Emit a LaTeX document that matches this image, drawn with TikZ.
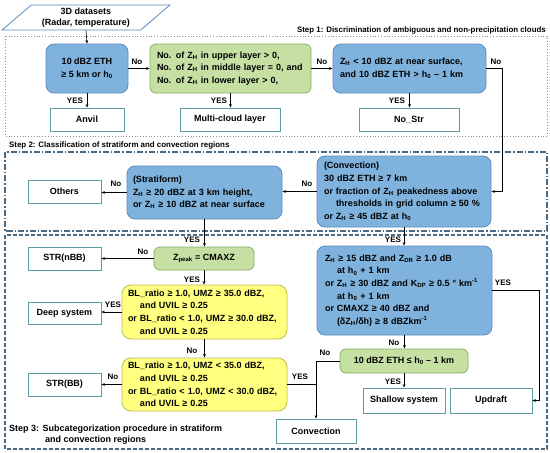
\documentclass[tikz,border=0pt]{standalone}
\usepackage{fontspec}
\setmainfont{Liberation Sans}
\usetikzlibrary{shapes.geometric,arrows.meta}
\definecolor{bfill}{HTML}{7FB3DD}
\definecolor{bdraw}{HTML}{5A8CBF}
\definecolor{gfill}{HTML}{C6E0A4}
\definecolor{gdraw}{HTML}{86AE62}
\definecolor{yfill}{HTML}{FFFF80}
\definecolor{ydraw}{HTML}{BDBD50}
\definecolor{leafc}{HTML}{5F9EA0}
\definecolor{framec}{HTML}{4C6B82}
\definecolor{framed}{HTML}{7A95A8}
\newcommand{\ZH}{Z\textsubscript{H}}
\newcommand{\hz}{h\textsubscript{0}}
\newcommand{\ind}{\hspace*{12pt}}
\begin{document}
\begin{tikzpicture}[x=1pt,y=-1pt,
  font=\fontsize{7.9}{12.6}\selectfont\bfseries,
  bigfont/.style={font=\fontsize{9}{12.6}\selectfont\bfseries},
  box/.style={bigfont, line width=0.8pt, inner sep=0pt, align=left},
  bluebox/.style={box, fill=bfill, draw=bdraw, rounded corners=8pt},
  greenbox/.style={box, fill=gfill, draw=gdraw, rounded corners=6pt},
  yellowbox/.style={box, fill=yfill, draw=ydraw, rounded corners=9pt},
  leaf/.style={bigfont, draw=leafc, line width=0.9pt, fill=white, align=center, inner sep=0pt},
  conn/.style={-{Stealth[length=3.5pt,width=2.8pt]}, line width=0.6pt},
  plain/.style={line width=0.6pt},
  lbl/.style={inner sep=0pt, font=\fontsize{8}{10}\selectfont\bfseries}
]
\useasboundingbox (0,0) rectangle (550,453);
% frames
\draw[framed, line width=0.8pt, dotted] (5,36) rectangle (547,136);
\draw[framec, line width=1.2pt, dash pattern=on 6pt off 2pt on 1.5pt off 2pt] (5,152) rectangle (547,231);
\draw[framec, line width=1.2pt, dash pattern=on 4pt off 2pt] (5,235) rectangle (547,449);
\node[inner sep=0pt, anchor=east] (s1) at (546,30) {Step 1: Discrimination of ambiguous and non-precipitation clouds};
\node[inner sep=0pt, anchor=west] (s2) at (9,145) {Step 2: Classification of stratiform and convection regions};
\node[inner sep=0pt, anchor=north west, align=left, font=\fontsize{9}{11}\selectfont\bfseries] (s3) at (9,425) {Step 3: Subcategorization procedure in stratiform\\\hspace*{36pt}and convection regions};
% data
\node[bigfont, draw=bdraw, line width=0.8pt, fill=white, shape=trapezium, trapezium left angle=39, trapezium right angle=141,
  trapezium stretches=true, minimum width=168pt, minimum height=25pt, inner sep=0pt, align=center] (data) at (86,17.5)
  {3D datasets\\[-2pt](Radar, temperature)};
% step 1
\node[bluebox, align=center, minimum width=82pt, minimum height=49pt] (b1) at (87,68.5) {10 dBZ ETH\\≥ 5 km or \hz};
\node[greenbox, text width=147pt, minimum width=161pt, minimum height=49pt] (b2) at (230.5,68.5)
  {No. of \ZH{} in upper layer > 0,\\No. of \ZH{} in middle layer = 0, and\\No. of \ZH{} in lower layer > 0,};
\node[bluebox, text width=139pt, minimum width=153pt, minimum height=49pt] (b3) at (409.5,68.5)
  {\ZH{} < 10 dBZ at near surface,\\and 10 dBZ ETH > \hz{} – 1 km};
\node[leaf, minimum width=74pt, minimum height=23pt] (anvil) at (87,119.5) {Anvil};
\node[leaf, minimum width=100pt, minimum height=23pt] (multi) at (230,119.5) {Multi-cloud layer};
\node[leaf, minimum width=100pt, minimum height=23pt] (nostr) at (409,119.5) {No\_Str};
% step 2
\node[bluebox, text width=143pt, minimum width=155pt, minimum height=53pt] (strat) at (204.5,192.5)
  {(Stratiform)\\\ZH{} ≥ 20 dBZ at 3 km height,\\or \ZH{} ≥ 10 dBZ at near surface};
\node[leaf, minimum width=73pt, minimum height=23pt] (others) at (64.5,191.5) {Others};
\node[bluebox, text width=160pt, minimum width=174pt, minimum height=71pt] (conv) at (404,191.5)
  {(Convection)\\30 dBZ ETH ≥ 7 km\\or fraction of \ZH{} peakedness above\\\ind thresholds in grid column ≥ 50 \%\\or \ZH{} ≥ 45 dBZ at \hz};
% step 3
\node[greenbox, align=center, minimum width=100pt, minimum height=23pt] (zpeak) at (204,258.5) {Z\textsubscript{peak} = CMAXZ};
\node[leaf, minimum width=73pt, minimum height=23pt] (strnbb) at (64.5,258.5) {STR(nBB)};
\node[yellowbox, text width=153pt, minimum width=165pt, minimum height=54pt] (y1) at (204.5,312)
  {BL\_ratio ≥ 1.0, UMZ ≥ 35.0 dBZ,\\\ind and UVIL ≥ 0.25\\or BL\_ratio < 1.0, UMZ ≥ 30.0 dBZ,\\\ind and UVIL ≥ 0.25};
\node[leaf, minimum width=73pt, minimum height=22pt] (deep) at (64.5,313) {Deep system};
\node[yellowbox, text width=153pt, minimum width=165pt, minimum height=53pt] (y2) at (204.5,384.5)
  {BL\_ratio ≥ 1.0, UMZ < 35.0 dBZ,\\\ind and UVIL ≥ 0.25\\or BL\_ratio < 1.0, UMZ < 30.0 dBZ,\\\ind and UVIL ≥ 0.25};
\node[leaf, minimum width=73pt, minimum height=23pt] (strbb) at (64.5,384.5) {STR(BB)};
\node[bluebox, text width=159pt, minimum width=175pt, minimum height=89pt] (bb) at (404.5,290.5)
  {\ZH{} ≥ 15 dBZ and Z\textsubscript{DR} ≥ 1.0 dB\\\ind at \hz{} + 1 km\\or \ZH{} ≥ 30 dBZ and K\textsubscript{DP} ≥ 0.5 ° km\textsuperscript{-1}\\\ind at \hz{} + 1 km\\or CMAXZ ≥ 40 dBZ and\\\ind (δ\ZH/δh) ≥ 8 dBZkm\textsuperscript{-1}};
\node[greenbox, align=center, minimum width=128pt, minimum height=24pt] (eth) at (404,361) {10 dBZ ETH ≤ \hz{} – 1 km};
\node[leaf, minimum width=82pt, minimum height=25pt] (shallow) at (404,400.5) {Shallow system};
\node[leaf, minimum width=82pt, minimum height=25pt] (updraft) at (491,400.5) {Updraft};
\node[leaf, minimum width=80pt, minimum height=24pt] (convleaf) at (316,431) {Convection};
\coordinate (rt) at (502,68.5);
\coordinate (rb) at (539,290.5);
% connectors
\draw[conn] (data.south) -- (b1.north);
\draw[conn] (b1.east) -- (b2.west);
\draw[conn] (b2.east) -- (b3.west);
\draw[conn] (b1.south) -- (anvil.north);
\draw[conn] (b2.south) -- (b2.south |- multi.north);
\draw[conn] (b3.south) -- (b3.south |- nostr.north);
\draw[conn] (b3.east) -- (rt) |- (conv.east);
\draw[conn] (conv.west) -- (conv.west -| strat.east);
\draw[conn] (strat.west) -- (strat.west -| others.east);
\draw[conn] (strat.south) -- (strat.south |- zpeak.north);
\draw[conn] (zpeak.west) -- (strnbb.east);
\draw[conn] (zpeak.south) -- (zpeak.south |- y1.north);
\draw[conn] (y1.west) -- (y1.west -| deep.east);
\draw[conn] (y1.south) -- (y2.north);
\draw[conn] (y2.west) -- (strbb.east);
\draw[plain] (y2.east) -- (y2.east -| convleaf.north);
\draw[conn] (eth.west) -| (convleaf.north);
\draw[conn] (conv.south) -- (conv.south |- bb.north);
\draw[conn] (bb.south) -- (bb.south |- eth.north);
\draw[conn] (eth.south) -- (shallow.north);
\draw[conn] (bb.east) -- (rb) |- (updraft.east);
% labels
\node[lbl] (l1) at (75,101) {YES};
\node[lbl] (l2) at (137,62) {No};
\node[lbl] (l3) at (219,101) {YES};
\node[lbl] (l4) at (322,62) {No};
\node[lbl] (l5) at (397,101) {YES};
\node[lbl] (l6) at (496,62) {No};
\node[lbl] (l7) at (116,184) {No};
\node[lbl] (l8) at (307,184) {No};
\node[lbl] (l9) at (192,240) {YES};
\node[lbl] (l10) at (393,240) {YES};
\node[lbl] (l11) at (143,252) {No};
\node[lbl] (l12) at (192,280) {YES};
\node[lbl] (l13) at (113,305) {YES};
\node[lbl] (l14) at (192,351) {No};
\node[lbl] (l15) at (113,377) {No};
\node[lbl] (l16) at (300,377) {YES};
\node[lbl] (l17) at (503,283) {YES};
\node[lbl] (l18) at (394,343) {No};
\node[lbl] (l19) at (325,353) {No};
\node[lbl] (l20) at (393,382) {YES};
\end{tikzpicture}
\end{document}
